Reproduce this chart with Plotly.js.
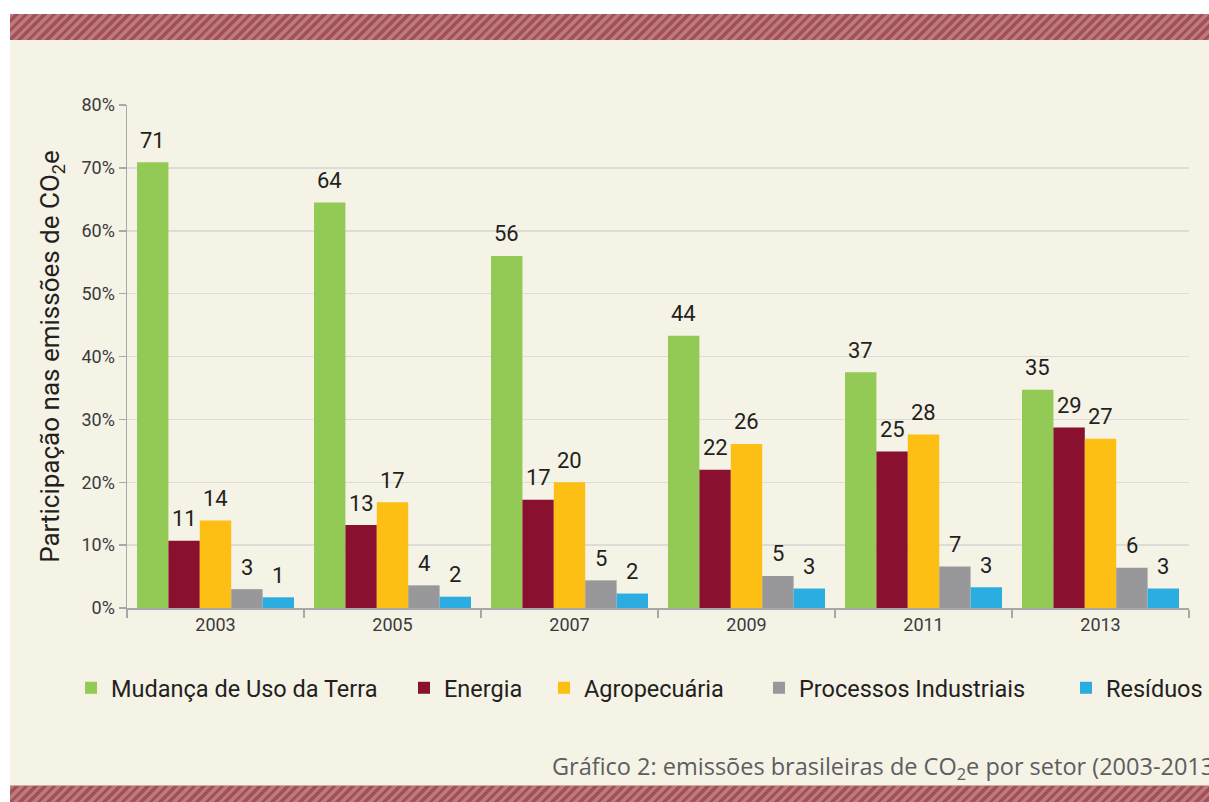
<!DOCTYPE html>
<html><head><meta charset="utf-8">
<script src="https://cdn.plot.ly/plotly-3.0.1.min.js"></script>
<style>
html,body{margin:0;padding:0;background:#ffffff;width:1209px;height:802px;overflow:hidden;}
#bg{position:absolute;left:10px;top:40px;width:1199px;height:745px;background:#f5f2e6;}
.band{position:absolute;left:10px;width:1199px;background:repeating-linear-gradient(135deg,#b97b7d 0px,#b97b7d 3.4px,#a54f56 3.4px,#a54f56 6.6px);}
#top{top:14px;height:26px;}
#bot{top:785px;height:17px;border-top:1px solid #d5a9a8;}
#chart{position:absolute;left:0;top:0;width:1209px;height:802px;}
</style></head>
<body>
<div id="bg"></div><div class="band" id="top"></div><div class="band" id="bot"></div>
<div id="chart"></div>
<script>
const years = ['2003','2005','2007','2009','2011','2013'];
const seriesNames = ['Mudança de Uso da Terra','Energia','Agropecuária','Processos Industriais','Resíduos'];
const mudanca   = [70.9, 64.5, 56.0, 43.3, 37.5, 34.7];
const energia   = [10.7, 13.2, 17.2, 22.0, 24.9, 28.7];
const agro      = [13.9, 16.8, 20.0, 26.1, 27.6, 26.9];
const processos = [3.0, 3.6, 4.4, 5.1, 6.6, 6.4];
const residuos  = [1.7, 1.8, 2.3, 3.1, 3.3, 3.1];
const labMudanca   = ['71','64','56','44','37','35'];
const labEnergia   = ['11','13','17','22','25','29'];
const labAgro      = ['14','17','20','26','28','27'];
const labProcessos = ['3','4','5','5','7','6'];
const labResiduos  = ['1','2','2','3','3','3'];
const yTickVals = [0,10,20,30,40,50,60,70,80];
const yTickText = ['0%','10%','20%','30%','40%','50%','60%','70%','80%'];

const values = [mudanca, energia, agro, processos, residuos];
const labels = [labMudanca, labEnergia, labAgro, labProcessos, labResiduos];
const colors = ['#93c955','#8a1030','#fdbf13','#98989b','#2bade2'];
const legendLeftPx = [71, 404, 544, 759, 1066];

const W = 1209, H = 802;
const margin = {l:127, r:20, t:105, b:194, pad:0, autoexpand:false};
const bargap = 0.113;
const plotW = W - margin.l - margin.r;
const plotH = H - margin.t - margin.b;
const barPx = plotW / years.length * (1 - bargap) / values.length;

const legendFont = {family:'Roboto, sans-serif', size:23.5, color:'#231f20'};

const traces = values.map((v,i)=>({
  type:'bar', x:years, y:v, name:seriesNames[i],
  marker:{color:colors[i], line:{width:0}},
  hoverinfo:'none',
  legend: i === 0 ? 'legend' : 'legend' + (i+1)
}));

const annotations = [];
values.forEach((v,i)=>{
  v.forEach((val,j)=>{
    annotations.push({
      x:j, y:val, xref:'x', yref:'y', text:labels[i][j], showarrow:false,
      xanchor:'center', yanchor:'middle', yshift:22, xshift:(i-(values.length-1)/2)*barPx,
      font:{family:'Roboto, sans-serif', size:22, color:'#231f20'}
    });
  });
});
annotations.push({
  xref:'paper', yref:'paper', x:(550-margin.l)/plotW, y:(608-767)/plotH,
  xanchor:'left', yanchor:'middle', showarrow:false,
  text:'Gráfico 2: emissões brasileiras de CO<sub>2</sub>e por setor (2003-2013)',
  font:{family:'Open Sans, sans-serif', size:23.5, color:'#5d5d5f'}
});

const layout = {
  width:W, height:H, margin:margin,
  paper_bgcolor:'rgba(0,0,0,0)', plot_bgcolor:'rgba(0,0,0,0)',
  barmode:'group', bargap:bargap, bargroupgap:0,
  font:{family:'Roboto, sans-serif', color:'#3a3a3a'},
  xaxis:{
    type:'category', range:[-0.5, years.length-0.5], autorange:false, automargin:false,
    tickson:'boundaries', ticks:'outside', ticklen:8, tickwidth:1.5, tickcolor:'#a8a8a8',
    showline:true, linecolor:'#a8a8a8', linewidth:1.5, showgrid:false,
    tickfont:{family:'Roboto, sans-serif', size:18, color:'#3a3a3a'}, fixedrange:true
  },
  yaxis:{
    range:[0,80], autorange:false, automargin:false, tickvals:yTickVals, ticktext:yTickText, ticks:'outside', ticklen:7, tickwidth:1.5, tickcolor:'#a8a8a8',
    showline:true, linecolor:'#a8a8a8', linewidth:1.5, showgrid:true, gridcolor:'#dcdcd8', gridwidth:1.5,
    zeroline:false, tickfont:{family:'Roboto, sans-serif', size:18, color:'#3a3a3a'},
    title:{text:'Participação nas emissões de CO<sub>2</sub>e', font:{family:'Roboto, sans-serif', size:26, color:'#231f20'}, standoff:14},
    fixedrange:true
  },
  annotations:annotations,
  showlegend:true
};
values.forEach((v,i)=>{
  const key = i === 0 ? 'legend' : 'legend' + (i+1);
  layout[key] = {
    orientation:'h', x:(legendLeftPx[i]-margin.l)/plotW, xanchor:'left', y:(608-688)/plotH, yanchor:'middle',
    font:legendFont, bgcolor:'rgba(0,0,0,0)', itemclick:false, itemdoubleclick:false, itemwidth:30
  };
});
Plotly.newPlot('chart', traces, layout, {displayModeBar:false, staticPlot:true});
</script>
</body></html>
